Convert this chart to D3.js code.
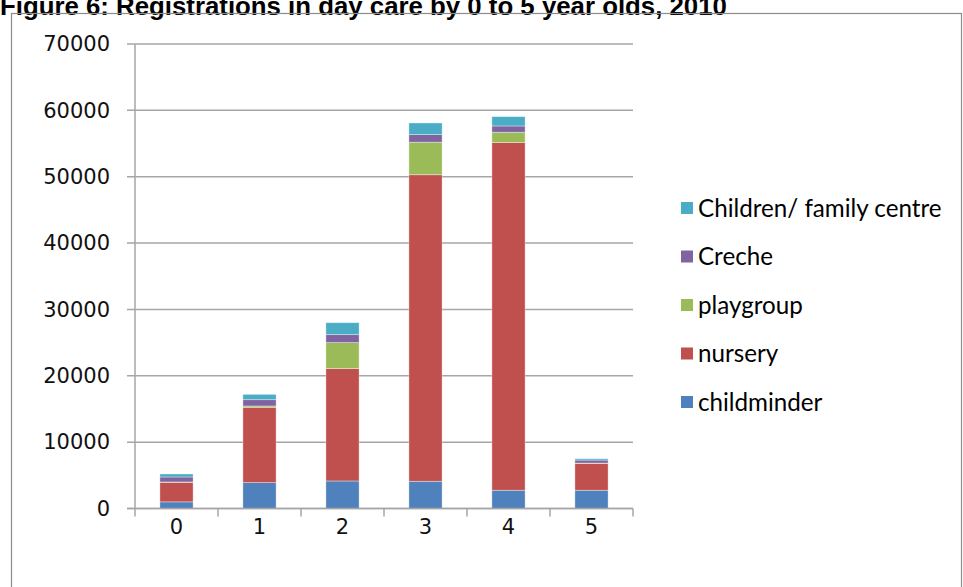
<!DOCTYPE html>
<html>
<head>
<meta charset="utf-8">
<script src="https://cdn.jsdelivr.net/npm/d3@7/dist/d3.min.js"></script>
<style>
  html, body { margin: 0; padding: 0; background: #fff; }
  svg { display: block; }
</style>
</head>
<body>
<svg id="chart" width="963" height="587"></svg>
<script>
// Age groups (years) along the x axis
const ages = ["0", "1", "2", "3", "4", "5"];

// Registrations per age, one array per type of day care (bottom to top of each stack)
const childminder    = [1000, 3900, 4150, 4100, 2750, 2750];
const nursery        = [2950, 11350, 16950, 46200, 52400, 4050];
const playgroup      = [50, 200, 3900, 4900, 1550, 50];
const creche         = [750, 950, 1200, 1150, 950, 450];
const familyCentre   = [450, 800, 1800, 1750, 1400, 200];

const seriesNames  = ["childminder", "nursery", "playgroup", "Creche", "Children/ family centre"];
const seriesValues = [childminder, nursery, playgroup, creche, familyCentre];
const seriesColors = ["#4F81BD", "#C0504D", "#9BBB59", "#8064A2", "#4BACC6"];

const yTicks = [0, 10000, 20000, 30000, 40000, 50000, 60000, 70000];

const titleText = "Figure 6: Registrations in day care by 0 to 5 year olds, 2010";

const svg = d3.select("#chart");

// Title, partly cut off by the top edge
svg.append("text")
  .attr("x", 0)
  .attr("y", 15)
  .attr("font-family", "Liberation Sans, Arial, sans-serif")
  .attr("font-weight", "bold")
  .attr("font-size", 25.8)
  .attr("fill", "#000")
  .text(titleText);

// Chart area frame
svg.append("rect")
  .attr("x", 11.5).attr("y", 13.5)
  .attr("width", 950).attr("height", 620)
  .attr("fill", "none")
  .attr("stroke", "#8c8c8c")
  .attr("stroke-width", 1.2);

const plot = { left: 135, right: 633, top: 44, bottom: 508.5 };

const x = d3.scaleBand()
  .domain(ages)
  .range([plot.left, plot.right])
  .paddingInner(0.6)
  .paddingOuter(0.3);

const y = d3.scaleLinear()
  .domain([0, 70000])
  .range([plot.bottom, plot.top]);

const gridColor = "#a6a6a6";

// Horizontal gridlines with outward tick stubs
const grid = svg.append("g");
grid.selectAll("line")
  .data(yTicks)
  .join("line")
  .attr("x1", plot.left - 8)
  .attr("x2", plot.right)
  .attr("y1", d => y(d))
  .attr("y2", d => y(d))
  .attr("stroke", gridColor)
  .attr("stroke-width", 1.5);

// Y axis labels
const yAxis = d3.axisLeft(y).tickValues(yTicks).tickSize(0).tickPadding(25).tickFormat(d3.format("d"));
const yg = svg.append("g").attr("transform", `translate(${plot.left},0)`).call(yAxis);
yg.select(".domain").remove();
yg.selectAll("text")
  .attr("font-family", "DejaVu Sans, Verdana, sans-serif")
  .attr("font-size", 21)
  .attr("fill", "#111");

// Vertical axis line
svg.append("line")
  .attr("x1", plot.left).attr("x2", plot.left)
  .attr("y1", plot.top).attr("y2", plot.bottom)
  .attr("stroke", gridColor).attr("stroke-width", 1.5);

// Stacked bars
const table = ages.map((a, i) => {
  const row = { age: a };
  seriesNames.forEach((n, k) => { row[n] = seriesValues[k][i]; });
  return row;
});
const stacked = d3.stack().keys(seriesNames)(table);

svg.append("g")
  .selectAll("g")
  .data(stacked)
  .join("g")
  .attr("fill", (d, k) => seriesColors[k])
  .selectAll("rect")
  .data(d => d)
  .join("rect")
  .attr("x", d => x(d.data.age))
  .attr("width", x.bandwidth())
  .attr("y", d => y(d[1]))
  .attr("height", d => y(d[0]) - y(d[1]))
  .attr("stroke", "rgba(255,255,255,0.45)")
  .attr("stroke-width", 0.8);

// X axis line with ticks at category boundaries
svg.append("line")
  .attr("x1", plot.left - 8).attr("x2", plot.right)
  .attr("y1", plot.bottom).attr("y2", plot.bottom)
  .attr("stroke", gridColor).attr("stroke-width", 1.5);

const boundaries = ages.map(a => x(a) - x.step() * x.paddingInner() / 2).concat([plot.right]);
svg.append("g")
  .selectAll("line")
  .data(boundaries)
  .join("line")
  .attr("x1", d => d).attr("x2", d => d)
  .attr("y1", plot.bottom).attr("y2", plot.bottom + 8)
  .attr("stroke", gridColor).attr("stroke-width", 1.5);

// X axis labels
const xAxis = d3.axisBottom(x).tickSize(0).tickPadding(11);
const xg = svg.append("g").attr("transform", `translate(0,${plot.bottom})`).call(xAxis);
xg.select(".domain").remove();
xg.selectAll("text")
  .attr("font-family", "DejaVu Sans, Verdana, sans-serif")
  .attr("font-size", 21)
  .attr("fill", "#111");

// Legend, top entry is the top of the stack
const legendOrder = seriesNames.map((n, k) => ({ name: n, color: seriesColors[k] })).reverse();
const legend = svg.append("g");
const rowY = d3.scalePoint().domain(legendOrder.map(d => d.name)).range([208, 402]);
const item = legend.selectAll("g")
  .data(legendOrder)
  .join("g")
  .attr("transform", d => `translate(681,${rowY(d.name)})`);
item.append("rect")
  .attr("x", 0).attr("y", -6)
  .attr("width", 12).attr("height", 12)
  .attr("fill", d => d.color);
item.append("text")
  .attr("x", 17)
  .attr("y", 0)
  .attr("dy", "0.36em")
  .attr("font-family", "Lato, Carlito, Calibri, sans-serif")
  .attr("font-size", 24.2)
  .attr("fill", "#000")
  .text(d => d.name);
</script>
</body>
</html>
